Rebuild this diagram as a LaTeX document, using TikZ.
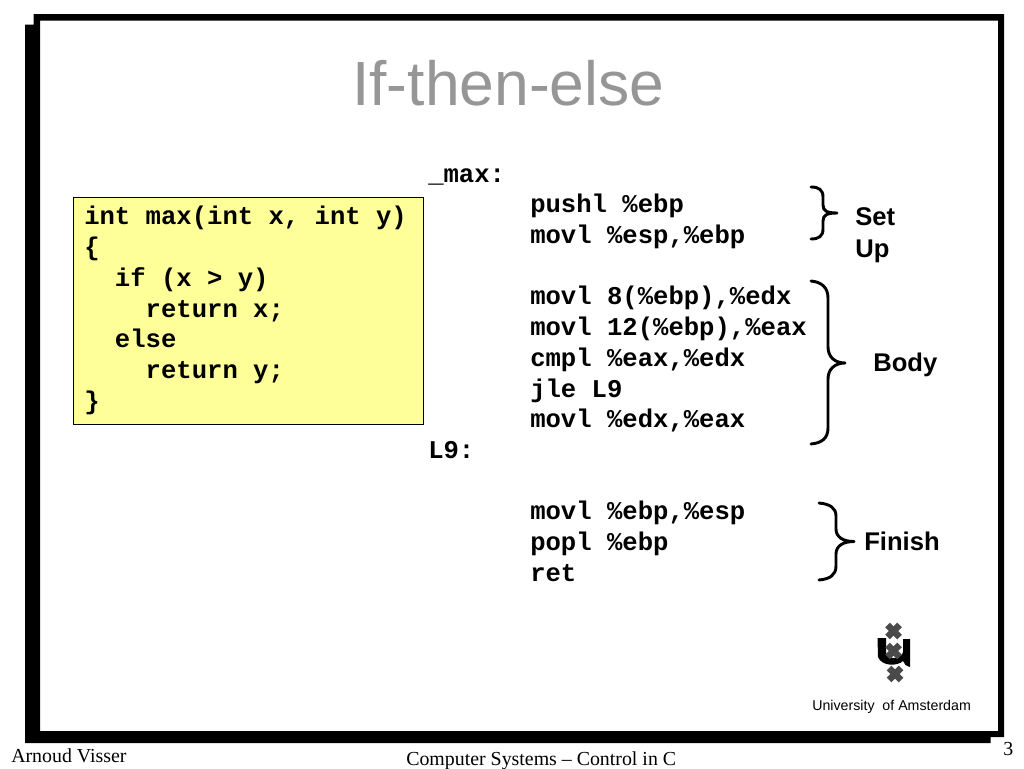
\documentclass[tikz,border=0pt]{standalone}
\usepackage{fontspec}
\setmainfont{Liberation Serif}
\setsansfont{Liberation Sans}
\setmonofont{Liberation Mono}
\newcommand{\pxfont}[2]{\fontsize{#1}{#2}\selectfont}
\definecolor{titlegray}{HTML}{969696}
\definecolor{boxyellow}{HTML}{FFFF99}
\definecolor{logogray}{HTML}{4A4A4A}
\tikzset{
  x=0.75pt,y=-0.75pt,
  codetext/.style={inner sep=0pt,anchor=base west,align=left,font=\ttfamily\bfseries\pxfont{19.2}{23.03}},
  sidelabel/.style={inner sep=0pt,anchor=base west,align=left,font=\sffamily\bfseries\pxfont{19.2}{23.4}},
  footer/.style={inner sep=0pt,anchor=base west,font=\rmfamily\pxfont{14.9}{18}},
  bracepath/.style={draw=black,line width=2.2pt,line cap=round,line join=round},
  crossmark/.style={draw=logogray,line width=4.8pt},
}
\begin{document}
\begin{tikzpicture}
\useasboundingbox (0,0) rectangle (1024,768);
\fill[white] (0,0) rectangle (1024,768);
% frame with shadow
\fill[black,even odd rule]
  (33.5,14) -- (1004,14) -- (1004,737) -- (990.5,737) -- (990.5,743) -- (25,743) -- (25,24.5) -- (33.5,24.5) -- cycle
  (40,20.5) rectangle (998,731);
% title
\node[inner sep=0pt,anchor=base west,text=titlegray,font=\sffamily\pxfont{46.8}{52}] (title) at (352,105) {If-then-else};
% C source box
\node[draw=black,line width=0.75pt,fill=boxyellow,minimum width=262.5pt,minimum height=170.25pt,inner sep=0pt,anchor=north west] (srcbox) at (73,197) {};
\node[codetext] (src) at (84,409.2) {int max(int x, int y)\\\{\\\ \ if (x > y)\\\ \ \ \ return x;\\\ \ else\\\ \ \ \ return y;\\\}};
% assembly
\node[codetext] (lblmax) at (428,182) {\_max:};
\node[codetext] (asmsetup) at (530,243.7) {pushl \%ebp\\movl \%esp,\%ebp};
\node[codetext] (asmbody) at (530,427.8) {movl 8(\%ebp),\%edx\\movl 12(\%ebp),\%eax\\cmpl \%eax,\%edx\\jle L9\\movl \%edx,\%eax};
\node[codetext] (lblnine) at (428,458) {L9:};
\node[codetext] (asmfinish) at (530,581) {movl \%ebp,\%esp\\popl \%ebp\\ret};
% braces
\path[bracepath] (811,187) .. controls (819,187) and (823,190) .. (823,197) -- (823,205)
  .. controls (823,211) and (827,213) .. (837,213)
  .. controls (827,213) and (823,215) .. (823,221) -- (823,229)
  .. controls (823,236) and (819,239) .. (811,239);
\path[bracepath] (811,281) .. controls (822,282) and (828,288) .. (828,298) -- (828,347)
  .. controls (828,357) and (835,363) .. (845,363)
  .. controls (835,363) and (828,369) .. (828,379) -- (828,428)
  .. controls (828,438) and (822,443) .. (811,444);
\path[bracepath] (819,503) .. controls (830,504) and (836,508) .. (836,516) -- (836,529)
  .. controls (836,537) and (843,541.5) .. (854,541.5)
  .. controls (843,541.5) and (836,546) .. (836,554) -- (836,566)
  .. controls (836,575) and (830,579) .. (819,580);
% side labels
\node[sidelabel] (lblsetup) at (855,257) {Set\\Up};
\node[sidelabel] (lblbody) at (873,371) {Body};
\node[sidelabel] (lblfinish) at (864,550) {Finish};
% logo
\fill[black] (877.5,638) -- (886,638) -- (886,652) .. controls (886,660) and (902,660) .. (903,652) -- (903,639) -- (910,639) -- (910,667)
  .. controls (906,666) and (904,664) .. (903,661) .. controls (898,666) and (882,667) .. (878,657) -- cycle;
\foreach \cx/\cy in {893.5/631,893.5/651,895/674}{
  \draw[crossmark] (\cx-6,\cy-6) -- (\cx+6,\cy+6) (\cx-6,\cy+6) -- (\cx+6,\cy-6);
}
\node[inner sep=0pt,anchor=base west,font=\sffamily\pxfont{10.65}{13}] (uva) at (812,710) {University\ \ of Amsterdam};
% footer
\node[footer] (author) at (11,762) {Arnoud Visser};
\node[footer] (course) at (406,765) {Computer Systems – Control in C};
\node[footer] (pagenum) at (1003,755) {3};
\end{tikzpicture}
\end{document}
